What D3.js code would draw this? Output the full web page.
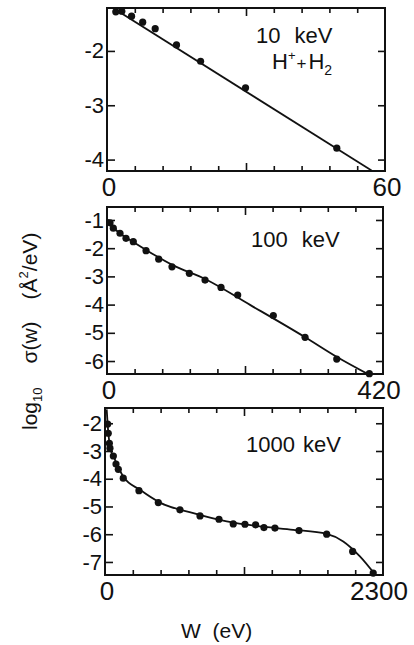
<!DOCTYPE html>
<html>
<head>
<meta charset="utf-8">
<script src="https://cdn.jsdelivr.net/npm/d3@7"></script>
<style>
  body { margin: 0; background: #fff; }
  text { font-family: "Liberation Sans", Arial, sans-serif; fill: #111; }
</style>
</head>
<body>
<svg id="chart" width="414" height="645"></svg>
<script>
// 10 keV H+ + H2
const w10 = [1.9, 3.2, 5.3, 7.7, 10.4, 15.0, 20.2, 29.9, 49.6];
const s10 = [-1.28, -1.27, -1.36, -1.47, -1.59, -1.89, -2.19, -2.68, -3.79];
const fitW10 = [1.3, 57.1];
const fitS10 = [-1.21, -4.20];

// 100 keV
const w100 = [4.6, 9.6, 19.8, 28.9, 40.0, 59.4, 78.7, 98.9, 125.3, 149.2, 173.5, 198.9, 253.1, 301.4, 349.6, 399.2];
const s100 = [-1.10, -1.29, -1.47, -1.65, -1.77, -2.09, -2.39, -2.66, -2.89, -3.13, -3.39, -3.66, -4.39, -5.16, -5.93, -6.45];
const fitW100 = [2, 10, 20, 40, 60, 100, 150, 217.7, 301, 350, 400];
const fitS100 = [-0.98, -1.27, -1.48, -1.78, -2.07, -2.6, -3.1, -4.01, -5.15, -5.86, -6.5];

// 1000 keV
const w1000 = [22, 27, 36, 41, 69, 91, 110, 151, 281, 441, 620, 786, 943, 1061, 1158, 1246, 1315, 1406, 1605, 1834, 2049, 2219];
const s1000 = [-2.03, -2.36, -2.72, -2.90, -3.18, -3.47, -3.66, -3.98, -4.43, -4.86, -5.12, -5.34, -5.46, -5.63, -5.64, -5.66, -5.76, -5.78, -5.87, -6.00, -6.62, -7.40];
const fitW1000 = [14, 22, 30, 41, 83, 151, 290, 455, 731, 1007, 1282, 1557, 1834, 1971, 2109, 2260];
const fitS1000 = [-1.5, -2.05, -2.45, -2.85, -3.32, -3.92, -4.40, -4.86, -5.24, -5.54, -5.72, -5.84, -5.99, -6.26, -6.8, -7.6];

const xMax = [60, 420, 2300];
const yDomains = [[-4.21, -1.21], [-6.46, -0.54], [-7.47, -1.45]];
const yTicks = [[-4, -3, -2], [-6, -5, -4, -3, -2, -1], [-7, -6, -5, -4, -3, -2]];

const panels = [
  { w: w10, s: s10, fw: fitW10, fs: fitS10, box: [107, 8, 385, 171] },
  { w: w100, s: s100, fw: fitW100, fs: fitS100, box: [107, 207, 383, 374] },
  { w: w1000, s: s1000, fw: fitW1000, fs: fitS1000, box: [105, 408, 383, 575] }
];

const svg = d3.select('#chart');

panels.forEach((p, i) => {
  const [x0, y0, x1, y1] = p.box;
  const x = d3.scaleLinear().domain([0, xMax[i]]).range([x0, x1]);
  const y = d3.scaleLinear().domain(yDomains[i]).range([y1, y0]);
  const g = svg.append('g');
  const step = xMax[i] / 10;
  const xt = d3.range(1, 10).map(k => k * step);

  g.append('clipPath').attr('id', 'clip' + i)
    .append('rect').attr('x', x0).attr('y', y0).attr('width', x1 - x0).attr('height', y1 - y0);

  // ticks, all pointing inward
  const left = g.append('g').attr('transform', `translate(${x0},0)`)
    .call(d3.axisLeft(y).tickValues(yTicks[i]).tickSize(-8).tickPadding(3).tickFormat(d => String(d)));
  left.selectAll('text').style('font-size', '22px').style('font-family', '"Liberation Sans", Arial, sans-serif');
  g.append('g').attr('transform', `translate(${x1},0)`)
    .call(d3.axisRight(y).tickValues(yTicks[i]).tickSize(-7).tickFormat(''));
  const top = g.append('g').attr('transform', `translate(0,${y0})`)
    .call(d3.axisTop(x).tickValues(xt).tickSize(-5).tickFormat(''));
  const bot = g.append('g').attr('transform', `translate(0,${y1})`)
    .call(d3.axisBottom(x).tickValues(xt).tickSize(-5).tickFormat(''));
  top.selectAll('.tick line').filter(d => d === 5 * step).attr('y2', 8);
  bot.selectAll('.tick line').filter(d => d === 5 * step).attr('y2', -8);
  g.selectAll('.domain').remove();
  g.selectAll('.tick line').attr('stroke', '#111').attr('stroke-width', 1.6);

  // frame
  g.append('rect').attr('x', x0).attr('y', y0).attr('width', x1 - x0).attr('height', y1 - y0)
    .attr('fill', 'none').attr('stroke', '#111').attr('stroke-width', 2);

  // x end labels
  g.append('text').attr('x', x(0) + 2).attr('y', y1 + 25).attr('text-anchor', 'middle')
    .style('font-size', '26px').text('0');
  g.append('text').attr('x', x(xMax[i]) + (i === 0 ? 2 : -4)).attr('y', y1 + 25).attr('text-anchor', 'middle')
    .style('font-size', '26px').text(String(xMax[i]));

  // fitted curve
  const fit = p.fw.map((v, k) => [v, p.fs[k]]);
  g.append('path').datum(fit)
    .attr('clip-path', `url(#clip${i})`)
    .attr('fill', 'none').attr('stroke', '#111').attr('stroke-width', 1.8)
    .attr('d', d3.line().x(d => x(d[0])).y(d => y(d[1])).curve(d3.curveMonotoneX));

  // measured points
  g.selectAll('circle.pt').data(p.w.map((v, k) => [v, p.s[k]])).enter()
    .append('circle').attr('class', 'pt')
    .attr('cx', d => x(d[0])).attr('cy', d => y(d[1])).attr('r', 3.6).attr('fill', '#111');
});

// panel captions
const cap = (xx, yy, parts) => {
  const t = svg.append('text').attr('x', xx).attr('y', yy).style('font-size', '22px');
  parts.forEach(pt => t.append('tspan').attr('dx', pt.dx || 0).attr('dy', pt.dy || 0)
    .style('font-size', pt.fs || '22px').text(pt.t));
};
cap(256, 43, [{ t: '10' }, { t: 'keV', dx: 14 }]);
cap(272, 69, [{ t: 'H' }, { t: '+', dy: -9, fs: '13px' }, { t: '+', dy: 9, dx: 1, fs: '17px' }, { t: 'H', dx: 2 }, { t: '2', dy: 6, fs: '14px' }]);
cap(251, 247, [{ t: '100' }, { t: 'keV', dx: 14 }]);
cap(246, 452, [{ t: '1000' }, { t: 'keV', dx: 8 }]);

// y axis title
const yt = svg.append('text').attr('transform', 'translate(37,430) rotate(-90)').style('font-size', '21px');
yt.append('tspan').text('log');
yt.append('tspan').attr('dy', 5).style('font-size', '13px').text('10');
yt.append('tspan').attr('dy', -5).attr('dx', 24).text('σ(w)');
yt.append('tspan').attr('dx', 22).text('(Å');
yt.append('tspan').attr('dy', -9).style('font-size', '13px').text('2');
yt.append('tspan').attr('dy', 9).text('/eV)');

// x axis title
svg.append('text').attr('x', 181).attr('y', 638).style('font-size', '21px')
  .attr('xml:space', 'preserve').style('white-space', 'pre').text('W  (eV)');
</script>
</body>
</html>
